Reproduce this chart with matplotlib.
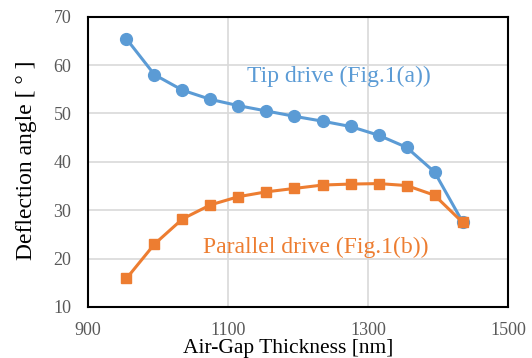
import matplotlib
matplotlib.use("Agg")
import matplotlib.pyplot as plt

# air-gap thickness [nm]
gap = [955, 995, 1035, 1075, 1115, 1155, 1195, 1235, 1275, 1315, 1355, 1395, 1435]
# deflection angle [deg]
tip_drive = [65.4, 58.0, 54.8, 52.9, 51.6, 50.5, 49.4, 48.4, 47.3, 45.5, 43.0, 37.9, 27.6]
parallel_drive = [15.9, 23.0, 28.2, 31.1, 32.8, 33.8, 34.5, 35.2, 35.4, 35.5, 35.1, 33.1, 27.5]

x_ticks = [900, 1100, 1300, 1500]
y_ticks = [10, 20, 30, 40, 50, 60, 70]

blue = "#5B9BD5"
orange = "#ED7D31"
serif = "Liberation Serif"

fig = plt.figure(figsize=(5.32, 3.58), dpi=100)
ax = fig.add_axes([0.1654, 0.1425, 0.7895, 0.811])

ax.plot(gap, tip_drive, color=blue, lw=2.2, marker="o", ms=8.5, zorder=3)
ax.plot(gap, parallel_drive, color=orange, lw=2.2, marker="s", ms=7.5, zorder=3)

ax.set_xlim(900, 1500)
ax.set_ylim(10, 70)
ax.set_xticks(x_ticks)
ax.set_yticks(y_ticks)
ax.grid(True, color="#D9D9D9", lw=1.2)
ax.set_axisbelow(True)
for s in ax.spines.values():
    s.set_linewidth(1.5)
    s.set_color("black")

ax.tick_params(length=0, labelcolor="#595959", labelsize=13)
ax.tick_params(axis="x", pad=11)
ax.tick_params(axis="y", pad=12)
for lab in ax.get_xticklabels() + ax.get_yticklabels():
    lab.set_fontfamily(serif)

ax.text(1127, 57.6, "Tip drive (Fig.1(a))", color=blue, fontsize=17,
        family=serif, va="center", ha="left")
ax.text(1064, 22.3, "Parallel drive (Fig.1(b))", color=orange, fontsize=17,
        family=serif, va="center", ha="left")

fig.text(288 / 532, 1 - 353 / 358, "Air-Gap Thickness [nm]", fontsize=15.5,
         family=serif, ha="center", va="baseline")
fig.text(27 / 532, 1 - 160 / 358, "Deflection angle [ ° ]", fontsize=17,
         family=serif, ha="center", va="center", rotation=90)

fig.savefig("out.png", dpi=100)
